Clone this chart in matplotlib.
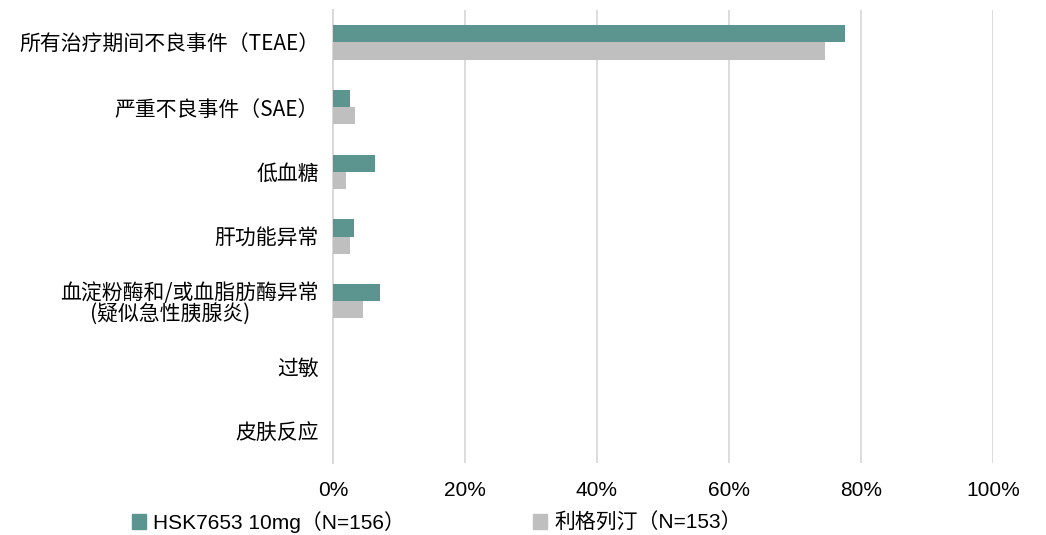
import matplotlib
matplotlib.use("Agg")
import matplotlib.pyplot as plt
import numpy as np
from matplotlib.patches import Patch

plt.rcParams['font.family'] = ['Noto Sans CJK SC', 'DejaVu Sans']

categories = [
    "所有治疗期间不良事件（TEAE）",
    "严重不良事件（SAE）",
    "低血糖",
    "肝功能异常",
    "血淀粉酶和/或血脂肪酶异常\n\u3000  (疑似急性胰腺炎)",
    "过敏",
    "皮肤反应",
]
hsk_values = [77.6, 2.6, 6.4, 3.2, 7.1, 0.0, 0.0]
lina_values = [74.5, 3.3, 2.0, 2.6, 4.6, 0.0, 0.0]
series_labels = ["HSK7653 10mg（N=156）", "利格列汀（N=153）"]
x_ticks = [0, 20, 40, 60, 80, 100]

GREEN = "#5c958f"
GRAY = "#bfbfbf"
GRID = "#d9d9d9"
LATIN = ['Liberation Sans', 'Noto Sans CJK SC']

fig = plt.figure(figsize=(10.46, 5.35), dpi=100)
ax = fig.add_axes([333 / 1046, 1 - 463 / 535, 660 / 1046, 453 / 535])

y = np.arange(len(categories))
h = 0.265
ax.barh(y - h / 2, hsk_values, height=h, color=GREEN, zorder=3)
ax.barh(y + h / 2, lina_values, height=h, color=GRAY, zorder=3)

ax.set_ylim(len(categories) - 0.5, -0.5)
ax.set_xlim(0, 100)
ax.set_xticks(x_ticks)
ax.set_xticklabels([f"{t}%" for t in x_ticks], fontsize=15, family=LATIN)
ax.set_yticks(y)
ax.set_yticklabels(categories, fontsize=15, multialignment='left',
                   linespacing=1.0)
ax.tick_params(axis='both', length=0)
ax.tick_params(axis='y', pad=10)
ax.tick_params(axis='x', pad=13)

ax.grid(axis='x', color=GRID, lw=1.3, zorder=0)
for s in ['top', 'right', 'bottom']:
    ax.spines[s].set_visible(False)
ax.spines['left'].set_color(GRID)
ax.spines['left'].set_linewidth(1.5)

handles = [Patch(color=GREEN, label=series_labels[0]),
           Patch(color=GRAY, label=series_labels[1])]
fig.legend(handles=handles, loc='center left', bbox_to_anchor=(113 / 1046, 1 - 522 / 535),
           ncol=2, frameon=False, handlelength=0.68, handleheight=0.68,
           handletextpad=0.34, columnspacing=6.15,
           prop={'family': LATIN, 'size': 15})

fig.savefig("out.png", dpi=100)
